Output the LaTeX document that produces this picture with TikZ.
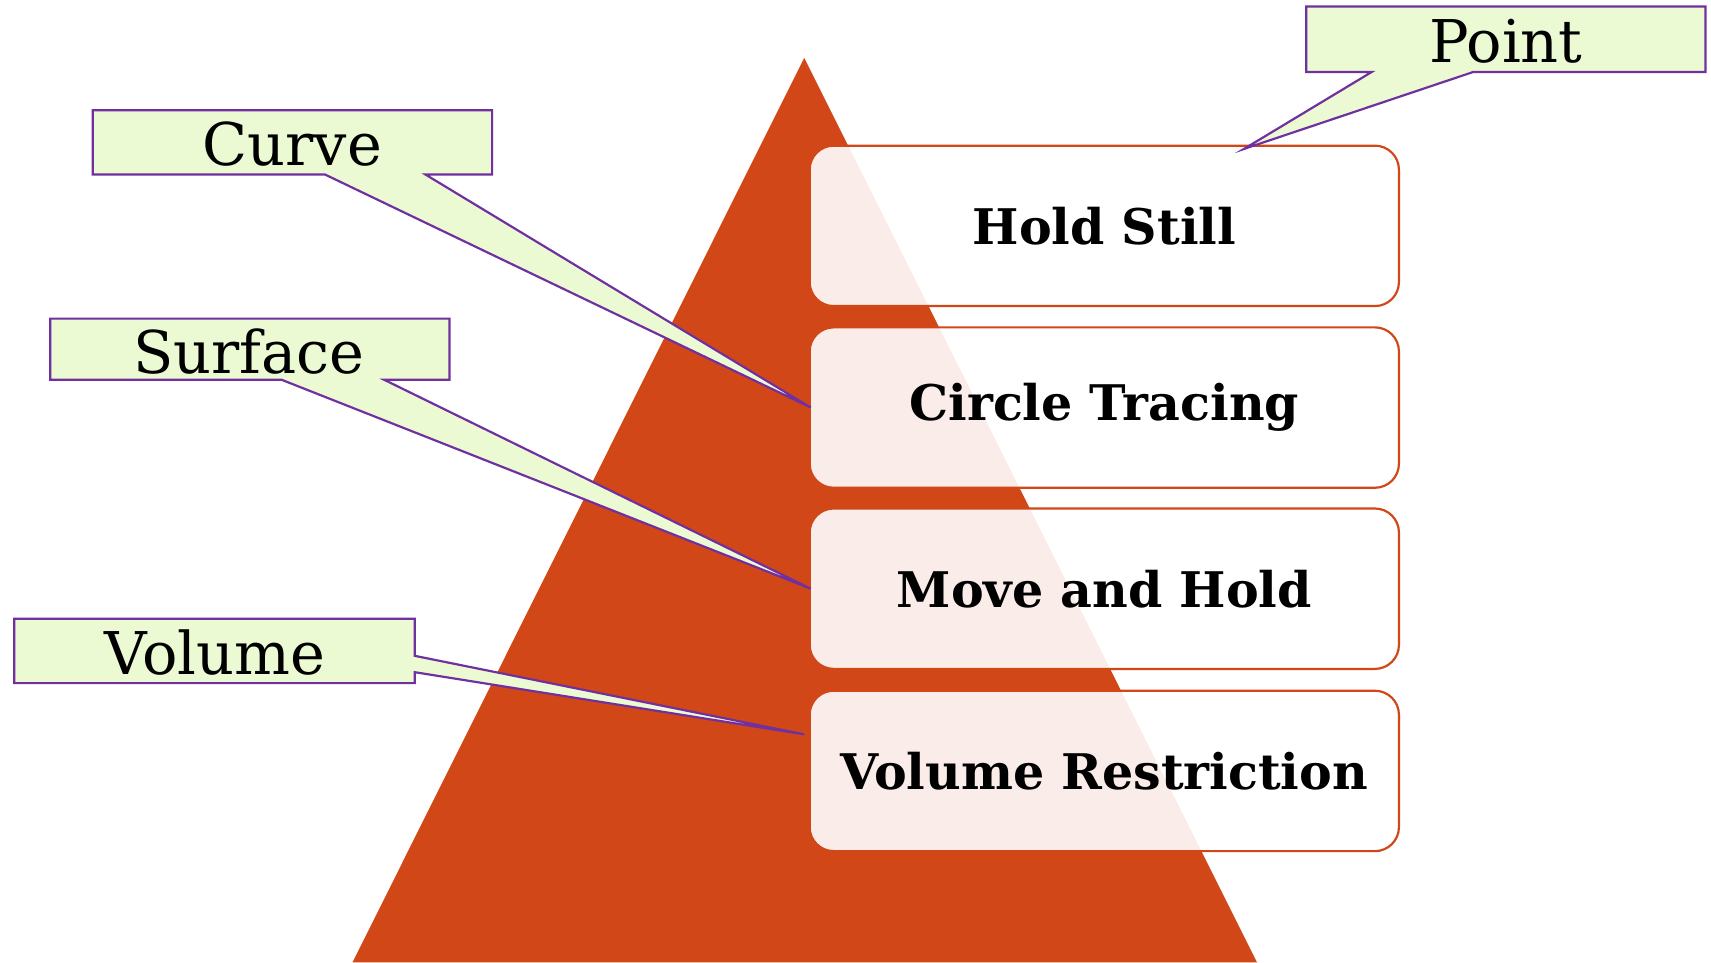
\documentclass[tikz,border=0pt]{standalone}
\usepackage{fontspec}
\setmainfont{DejaVu Serif}
\usetikzlibrary{calc}
\definecolor{pyramid}{RGB}{210,71,24}
\definecolor{calloutfill}{RGB}{235,250,210}
\definecolor{calloutline}{RGB}{112,48,160}
\tikzset{
  stage/.style={rectangle, rounded corners=22pt, draw=pyramid, line width=2pt,
    fill=white, fill opacity=0.9, text opacity=1,
    minimum width=540pt, minimum height=147pt, inner sep=0pt,
    font=\fontsize{45}{50}\selectfont\bfseries},
  callout/.style={draw=calloutline, fill=calloutfill, line width=2pt, line join=miter},
  callouttext/.style={font=\fontsize{54}{60}\selectfont, inner sep=0pt}
}
\begin{document}
\begin{tikzpicture}[x=1pt, y=-1pt]
\useasboundingbox (0,0) rectangle (1568,882);

% pyramid
\fill[pyramid] (737,53) -- (1152,882) -- (323,882) -- cycle;

% stages
\node[stage] (b1) at (1012,207) {Hold Still};
\node[stage] (b2) at (1012,373.5) {Circle Tracing};
\node[stage] (b3) at (1012,539.5) {Move and Hold};
\node[stage] (b4) at (1012,706.5) {Volume Restriction};

% callout tips
\coordinate (tipPoint) at ($(b1.north)+(128,4)$);
\coordinate (tipCurve) at ($(b2.west)+(2,0)$);
\coordinate (tipSurface) at ($(b3.west)+(2,0)$);
\coordinate (tipVolume) at ($(b4.west)+(-4,-33.5)$);

% callouts
\draw[callout] (1197,6) -- (1563,6) -- (1563,66) -- (1350,66) -- (tipPoint) -- (1257,66) -- (1197,66) -- cycle;
\node[callouttext] (tPoint) at (1380,38) {Point};

\draw[callout] (85,101) -- (451,101) -- (451,160) -- (390,160) -- (tipCurve) -- (298,160) -- (85,160) -- cycle;
\node[callouttext] (tCurve) at (268,132) {Curve};

\draw[callout] (46,292) -- (412,292) -- (412,348) -- (352,348) -- (tipSurface) -- (258,348) -- (46,348) -- cycle;
\node[callouttext] (tSurface) at (228,322) {Surface};

\draw[callout] (13,567) -- (380,567) -- (380,601) -- (tipVolume) -- (380,616) -- (380,626) -- (13,626) -- cycle;
\node[callouttext] (tVolume) at (197,598) {Volume};
\end{tikzpicture}
\end{document}
